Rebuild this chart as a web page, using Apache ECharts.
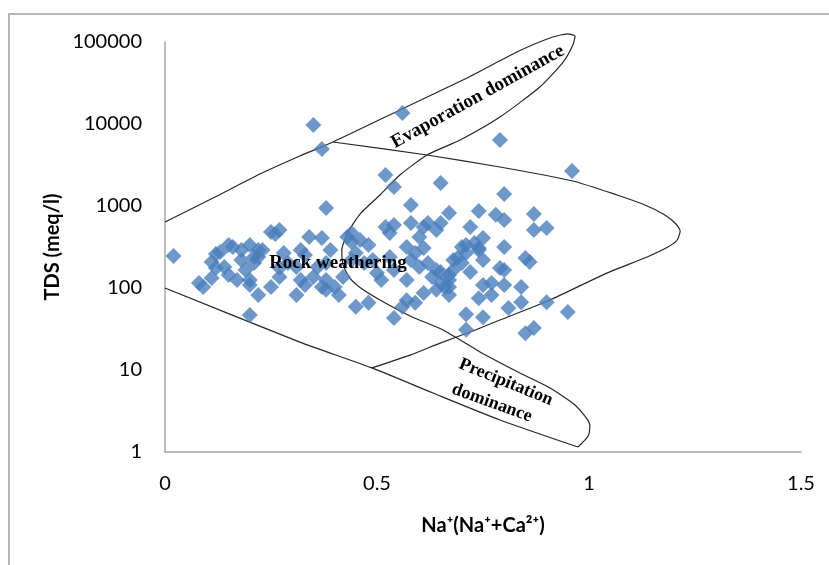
<!DOCTYPE html>
<html>
<head>
<meta charset="utf-8">
<script src="https://cdn.jsdelivr.net/npm/echarts@6/dist/echarts.min.js"></script>
<style>
  html, body { margin: 0; padding: 0; background: #fff; }
  #chart { width: 829px; height: 565px; }
</style>
</head>
<body>
<div id="chart"></div>
<script>
// Na/(Na+Ca) ratio of each sample
const naRatio = [
  0.02, 0.08, 0.09, 0.11, 0.11, 0.13, 0.12, 0.14, 0.15, 0.15,
  0.17, 0.18, 0.18, 0.20, 0.19, 0.20, 0.21, 0.21, 0.22, 0.22,
  0.23, 0.20, 0.22, 0.20, 0.25, 0.27, 0.25, 0.27, 0.28, 0.29,
  0.27, 0.31, 0.32, 0.31, 0.33, 0.34, 0.37, 0.38, 0.33, 0.35,
  0.36, 0.37, 0.38, 0.38, 0.39, 0.40, 0.41, 0.42, 0.43, 0.44,
  0.45, 0.44, 0.45, 0.46, 0.48, 0.48, 0.47, 0.50, 0.51, 0.49,
  0.54, 0.54, 0.53, 0.54, 0.57, 0.57, 0.58, 0.58, 0.60, 0.61,
  0.62, 0.62, 0.63, 0.64, 0.64, 0.65, 0.66, 0.67, 0.68, 0.54,
  0.57, 0.56, 0.59, 0.61, 0.64, 0.67, 0.12, 0.16, 0.26, 0.35,
  0.37, 0.38, 0.56, 0.52, 0.79, 0.96, 0.80, 0.74, 0.78, 0.80,
  0.87, 0.72, 0.87, 0.90, 0.71, 0.73, 0.74, 0.75, 0.80, 0.85,
  0.86, 0.69, 0.70, 0.72, 0.68, 0.67, 0.65, 0.65, 0.67, 0.67,
  0.80, 0.75, 0.77, 0.77, 0.80, 0.74, 0.84, 0.84, 0.81, 0.90,
  0.71, 0.75, 0.95, 0.71, 0.85, 0.87, 0.65, 0.58, 0.52, 0.53,
  0.61, 0.59, 0.70, 0.71, 0.74, 0.75, 0.79, 0.60, 0.44, 0.32
];
// TDS (meq/l) of each sample
const tds = [
  246, 115, 103, 132, 207, 275, 175, 180, 334, 144,
  125, 219, 291, 334, 166, 125, 239, 202, 291, 239,
  291, 109, 82, 47, 482, 510, 103, 136, 267, 202,
  175, 82, 125, 180, 253, 419, 407, 946, 109, 136,
  180, 103, 125, 202, 291, 103, 82, 136, 419, 364,
  59, 219, 267, 385, 334, 66, 202, 152, 125, 219,
  586, 1710, 239, 166, 316, 125, 1031, 219, 419, 555,
  622, 202, 136, 166, 510, 1910, 103, 824, 219, 43,
  71, 59, 66, 87, 95, 125, 260, 316, 455, 9720,
  4960, 95, 13600, 2390, 6380, 2670, 1400, 869, 780, 675,
  799, 555, 510, 540, 334, 354, 307, 407, 316, 232,
  207, 232, 202, 157, 166, 144, 157, 115, 103, 82,
  166, 109, 115, 82, 109, 75, 103, 67, 57, 67,
  48, 44, 51, 31, 28, 32.5, 622, 622, 555, 469,
  307, 267, 316, 267, 291, 219, 175, 180, 469, 291
];

// Gibbs boundary: upper line, evaporation loop, down to the precipitation tip
const outerBoundary = [
  [0, 638], [0.118, 1288], [0.224, 2455], [0.318, 4070], [0.396, 6030],
  [0.554, 14820], [0.712, 36400], [0.830, 75500], [0.908, 111900], [0.950, 125300],
  [0.967, 118300], [0.962, 91900], [0.939, 57000], [0.884, 28250], [0.790, 12170],
  [0.696, 6380], [0.618, 4190], [0.554, 2388], [0.507, 1362], [0.460, 798],
  [0.432, 482], [0.417, 291], [0.420, 191], [0.436, 132], [0.465, 97],
  [0.507, 71.4], [0.578, 45.6], [0.656, 30.7], [0.743, 16.6], [0.837, 9.19],
  [0.908, 6.03], [0.967, 3.74], [1.002, 2.14], [0.998, 1.57], [0.974, 1.15]
];
// lower boundary line
const lowerBoundary = [
  [0, 100], [0.318, 21.9], [0.488, 10.6], [0.632, 5.24], [0.790, 2.46], [0.974, 1.15]
];
// rock weathering loop
const rockLoop = [
  [0.396, 6030], [0.618, 4190], [0.790, 2990], [0.962, 2018], [1.066, 1362],
  [1.132, 1029], [1.179, 777], [1.205, 603], [1.215, 495], [1.208, 385],
  [1.186, 316], [1.137, 239], [1.042, 152], [0.908, 71.4], [0.790, 40.7],
  [0.726, 29.9], [0.649, 21.3], [0.578, 15.2], [0.488, 10.6]
];

const zoneNames = ['Rock weathering', 'Evaporation dominance', 'Precipitation', 'dominance'];
const zoneAnchors = [[0.408, 202], [0.738, 21500], [0.804, 7.1], [0.771, 3.96]];
const zoneAngles = [0, 29, -22, -20];
const zoneFontSizes = [19, 19, 18, 18];

const chart = echarts.init(document.getElementById('chart'));

const samples = naRatio.map((x, i) => [x, tds[i]]);
const axisFont = 'Lato';
const lineStyle = { color: '#262626', width: 1.2 };

const boundary = (data) => ({
  type: 'line',
  data: data,
  showSymbol: false,
  smooth: 0.2,
  clip: false,
  silent: true,
  z: 1,
  lineStyle: lineStyle
});

chart.setOption({
  animation: false,
  backgroundColor: '#fff',
  grid: { left: 165, right: 28, top: 42, bottom: 113 },
  xAxis: {
    type: 'value', min: 0, max: 1.5, interval: 0.5,
    name: 'Na\u207A(Na\u207A+Ca\u00B2\u207A)',
    nameLocation: 'middle', nameGap: 64,
    nameTextStyle: { fontFamily: axisFont, fontWeight: 'bold', fontSize: 20, color: '#000', verticalAlign: 'top' },
    axisLine: { show: true, lineStyle: { color: '#a6a6a6', width: 1.5 } },
    axisTick: { show: false },
    splitLine: { show: false },
    axisLabel: { margin: 22, fontFamily: axisFont, fontSize: 20, color: '#000' }
  },
  yAxis: {
    type: 'log', logBase: 10, min: 1, max: 100000,
    axisLine: { show: true, lineStyle: { color: '#a6a6a6', width: 1.5 } },
    axisTick: { show: false },
    splitLine: { show: false },
    axisLabel: {
      margin: 23, fontFamily: axisFont, fontSize: 20, color: '#000',
      formatter: (v) => String(Math.round(v))
    }
  },
  series: [
    boundary(outerBoundary),
    boundary(lowerBoundary),
    boundary(rockLoop),
    {
      type: 'scatter',
      data: samples,
      symbol: 'diamond',
      symbolSize: 16,
      z: 3,
      itemStyle: { color: '#4a7ebb' }
    }
  ]
});

// zone labels, placed from data coordinates
const zoneTexts = zoneNames.map((name, i) => {
  const p = chart.convertToPixel({ gridIndex: 0 }, zoneAnchors[i]);
  return {
    type: 'text',
    x: p[0], y: p[1],
    rotation: zoneAngles[i] * Math.PI / 180,
    z: 100,
    silent: true,
    style: {
      text: name,
      font: 'bold ' + zoneFontSizes[i] + 'px "Liberation Serif"',
      fill: '#000',
      align: 'center',
      verticalAlign: 'middle'
    }
  };
});

chart.setOption({
  graphic: [
    {
      type: 'rect', silent: true, z: -1,
      shape: { x: 9, y: 14, width: 880, height: 620 },
      style: { fill: 'none', stroke: '#b4b4b4', lineWidth: 2 }
    },
    {
      // y axis title
      type: 'text', x: 53, y: 247, rotation: Math.PI / 2, silent: true,
      style: {
        text: 'TDS (meq/l)',
        font: 'bold 20px Lato',
        fill: '#000', align: 'center', verticalAlign: 'middle'
      }
    }
  ].concat(zoneTexts)
});
</script>
</body>
</html>
